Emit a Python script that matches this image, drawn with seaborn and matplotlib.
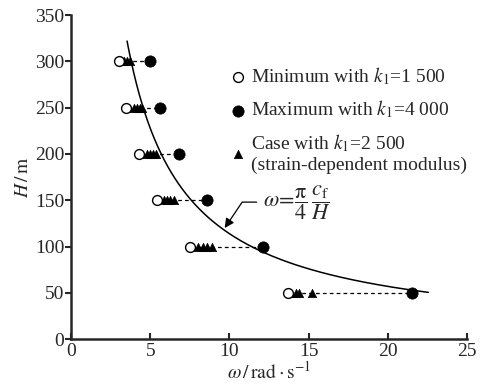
import numpy as np
import matplotlib
matplotlib.use("Agg")
import matplotlib.pyplot as plt
import seaborn as sns

sns.set_style("ticks")
plt.rcParams['font.family'] = ['Liberation Serif', 'DejaVu Serif']
plt.rcParams['mathtext.fontset'] = 'stix'

# data
H_levels = [300, 250, 200, 150, 100, 50]
omega_min = [3.0, 3.5, 4.3, 5.4, 7.5, 13.7]   # k1 = 1500
omega_max = [5.0, 5.6, 6.8, 8.6, 12.1, 21.5]  # k1 = 4000

# k1 = 2500, strain-dependent modulus (several cases per height)
tri_H = [300, 300, 300,
         250, 250, 250, 250,
         200, 200, 200, 200,
         150, 150, 150, 150,
         100, 100, 100, 100,
         50, 50, 50, 50]
tri_omega = [3.35, 3.55, 3.75,
             3.95, 4.15, 4.35, 4.5,
             4.8, 5.0, 5.15, 5.35,
             5.85, 6.05, 6.25, 6.5,
             8.0, 8.3, 8.6, 8.9,
             13.9, 14.2, 14.4, 15.2]

# omega = pi/4 * cf / H
cf = 1450.0
H_curve = np.linspace(50.5, 322, 200)
omega_curve = np.pi / 4 * cf / H_curve

fs = 14
fig = plt.figure(figsize=(4.8, 3.88), dpi=100)
ax = fig.add_axes([0.148, 0.126, 0.825, 0.835])

ax.hlines(H_levels, omega_min, omega_max, colors='black', linestyles=(0, (3, 2.5)),
          linewidth=0.9, zorder=1)
sns.lineplot(x=omega_curve, y=H_curve, sort=False, color='black', linewidth=1.1,
             ax=ax, zorder=2)
sns.scatterplot(x=tri_omega, y=tri_H, marker='^', s=36, color='black',
                edgecolor='black', linewidth=0.5, ax=ax, zorder=3,
                label='Case with $k_\\mathrm{1}$=2 500\n(strain-dependent modulus)')
sns.scatterplot(x=omega_min, y=H_levels, marker='o', s=50, facecolor='white',
                edgecolor='black', linewidth=1.0, ax=ax, zorder=4,
                label='Minimum with $k_\\mathrm{1}$=1 500')
sns.scatterplot(x=omega_max, y=H_levels, marker='o', s=66, color='black',
                edgecolor='black', linewidth=0.5, ax=ax, zorder=4,
                label='Maximum with $k_\\mathrm{1}$=4 000')

handles, labels = ax.get_legend_handles_labels()
order = [1, 2, 0]
ax.legend([handles[i] for i in order], [labels[i] for i in order],
          loc='upper left', bbox_to_anchor=(0.37, 0.875), frameon=False,
          fontsize=fs, handletextpad=0.1, labelspacing=0.6, borderpad=0,
          handlelength=1.1)

ax.annotate(r'$\omega\!=\!\dfrac{\mathrm{\pi}}{4}\,\dfrac{c_\mathrm{f}}{H}$',
            xy=(9.7, 120), xytext=(12.1, 148), fontsize=16,
            va='center', ha='left',
            arrowprops=dict(arrowstyle='-|>', color='black', lw=0.9,
                            connectionstyle='angle,angleA=0,angleB=56,rad=0',
                            shrinkA=2, shrinkB=0, mutation_scale=14))

ax.set_xlim(0, 25)
ax.set_ylim(0, 350)
ax.set_xticks([0, 5, 10, 15, 20, 25])
ax.set_yticks(range(0, 351, 50))
ax.set_xlabel(r'$\omega\,/\,\mathrm{rad\cdot s^{-1}}$', fontsize=fs, labelpad=0)
ax.set_ylabel(r'$H\,/\,\mathrm{m}$', fontsize=fs, labelpad=2)
ax.tick_params(axis='x', direction='in', length=4, width=1.5, labelsize=fs, pad=3)
ax.tick_params(axis='y', direction='out', length=4, width=1.5, labelsize=fs, pad=1)
sns.despine(ax=ax)
for s in ['left', 'bottom']:
    ax.spines[s].set_linewidth(1.8)

fig.savefig('out.png', dpi=100)
